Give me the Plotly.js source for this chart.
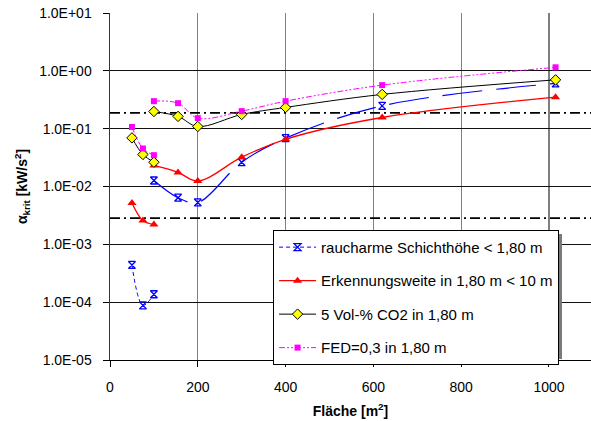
<!DOCTYPE html>
<html>
<head>
<meta charset="utf-8">
<script src="https://cdn.plot.ly/plotly-3.0.1.min.js"></script>
<style>html,body{margin:0;padding:0;background:#fff;}#chart{width:591px;height:421px;}</style>
</head>
<body>
<div id="chart"></div>
<script>
// Flächen (x) for the two segments of each series
const xLow = [50, 75, 100];
const xHigh = [100, 155, 200, 300, 400, 620, 1015];

// raucharme Schichthöhe < 1,80 m
const smokeLow = [0.00044, 0.000088, 0.000137];
const smokeHigh = [0.0127, 0.0064, 0.0053, 0.0263, 0.0685, 0.248, 0.605];

// Erkennungsweite in 1,80 m < 10 m
const visLow = [0.0052, 0.00258, 0.0022];
const visHigh = [0.0231, 0.0175, 0.0124, 0.0321, 0.0656, 0.156, 0.351];

// 5 Vol-% CO2 in 1,80 m
const co2Low = [0.0693, 0.0358, 0.0263];
const co2High = [0.198, 0.163, 0.109, 0.176, 0.233, 0.391, 0.699];

// FED=0,3 in 1,80 m
const fedLow = [0.107, 0.0454, 0.0348];
const fedHigh = [0.299, 0.276, 0.152, 0.201, 0.299, 0.566, 1.15];

// horizontal reference levels (dash-dot lines)
const refX = [0, 1100];
const refUpper = [0.187, 0.187];
const refLower = [0.00283, 0.00283];

const names = [
  'raucharme Schichthöhe < 1,80 m',
  'Erkennungsweite in 1,80 m < 10 m',
  '5 Vol-% CO2 in 1,80 m',
  'FED=0,3 in 1,80 m'
];

const yTickVals = [1e-5, 1e-4, 1e-3, 1e-2, 1e-1, 1, 10];
const yTickText = ['1.0E-05', '1.0E-04', '1.0E-03', '1.0E-02', '1.0E-01', '1.0E+00', '1.0E+01'];
const xTickVals = [0, 200, 400, 600, 800, 1000];

const smokeMarker = {symbol: 'hourglass-open', size: 7, color: '#0000FF', line: {color: '#0000FF', width: 1.3}};
const visMarker = {symbol: 'triangle-up', size: 8, color: '#FF0000', line: {width: 0}};
const co2Marker = {symbol: 'diamond', size: 8, color: '#FFFF00', line: {color: '#000000', width: 1}};
const fedMarker = {symbol: 'square', size: 6, color: '#FF00FF', line: {width: 0}};

const traces = [
  {x: refX, y: refUpper, mode: 'lines', showlegend: false, hoverinfo: 'skip',
   line: {color: '#000', width: 1.8, dash: '10px,4px,2px,4px'}},
  {x: refX, y: refLower, mode: 'lines', showlegend: false, hoverinfo: 'skip',
   line: {color: '#000', width: 1.8, dash: '10px,4px,2px,4px'}},

  {x: xLow, y: smokeLow, name: names[0], legendgroup: 'g1', mode: 'lines+markers',
   line: {color: '#0000FF', width: 1, dash: '4px,3px', shape: 'spline'}, marker: smokeMarker},
  {x: xHigh, y: smokeHigh, name: names[0], legendgroup: 'g1', showlegend: false, mode: 'lines+markers',
   line: {color: '#0000FF', width: 1.2, dash: '40px,14px', shape: 'spline'}, marker: smokeMarker},

  {x: xLow, y: visLow, name: names[1], legendgroup: 'g2', mode: 'lines+markers',
   line: {color: '#FF0000', width: 1.3, shape: 'spline'}, marker: visMarker},
  {x: xHigh, y: visHigh, name: names[1], legendgroup: 'g2', showlegend: false, mode: 'lines+markers',
   line: {color: '#FF0000', width: 1.3, shape: 'spline'}, marker: visMarker},

  {x: xLow, y: co2Low, name: names[2], legendgroup: 'g3', mode: 'lines+markers',
   line: {color: '#000000', width: 1, shape: 'spline'}, marker: co2Marker},
  {x: xHigh, y: co2High, name: names[2], legendgroup: 'g3', showlegend: false, mode: 'lines+markers',
   line: {color: '#000000', width: 1, shape: 'spline'}, marker: co2Marker},

  {x: xLow, y: fedLow, name: names[3], legendgroup: 'g4', mode: 'lines+markers',
   line: {color: '#FF00FF', width: 1, dash: '6px,2px,2px,2px,2px,2px', shape: 'spline'}, marker: fedMarker},
  {x: xHigh, y: fedHigh, name: names[3], legendgroup: 'g4', showlegend: false, mode: 'lines+markers',
   line: {color: '#FF00FF', width: 1, dash: '6px,2px,2px,2px,2px,2px', shape: 'spline'}, marker: fedMarker}
];

const font = 'Liberation Sans, Arial, sans-serif';

const layout = {
  width: 591, height: 421,
  margin: {l: 110, r: 0, t: 13, b: 61},
  paper_bgcolor: '#fff', plot_bgcolor: '#fff',
  font: {family: font, size: 14, color: '#000'},
  showlegend: true,
  legend: {
    x: 0.339, y: 0.375, xanchor: 'left', yanchor: 'top',
    bgcolor: '#fff', bordercolor: '#000', borderwidth: 1,
    font: {family: font, size: 15, color: '#000'},
    traceorder: 'grouped', tracegroupgap: 11, itemwidth: 37
  },
  shapes: [{
    type: 'rect', xref: 'paper', yref: 'paper', layer: 'above',
    x0: (276 - 110) / 481, x1: (562 - 110) / 481,
    y0: (360 - 359) / 347, y1: (360 - 234) / 347,
    fillcolor: '#7a7a7a', line: {width: 0}
  }],
  xaxis: {
    range: [0, 1095.7], tickvals: xTickVals, ticks: 'outside', ticklen: 6, tickcolor: '#000',
    showline: true, linecolor: '#000', linewidth: 1, zeroline: false,
    showgrid: true, gridcolor: '#808080', gridwidth: 1.3,
    ticklabelstandoff: 8,
    tickfont: {family: font, size: 14},
    title: {text: '<b>Fläche [m<sup>2</sup>]</b>', font: {family: font, size: 14}, standoff: 12}
  },
  yaxis: {
    type: 'log', range: [-5, 1], tickvals: yTickVals, ticktext: yTickText,
    ticks: 'outside', ticklen: 6, tickcolor: '#000',
    showline: true, linecolor: '#333', linewidth: 1.5, zeroline: false,
    showgrid: true, gridcolor: '#111', gridwidth: 1,
    ticklabelstandoff: 8,
    tickfont: {family: font, size: 14},
    title: {text: '<b>α<sub>krit</sub> [kW/s<sup>2</sup>]</b>', font: {family: font, size: 14}, standoff: 8}
  }
};

Plotly.newPlot('chart', traces, layout, {displayModeBar: false, staticPlot: true});
</script>
</body>
</html>
